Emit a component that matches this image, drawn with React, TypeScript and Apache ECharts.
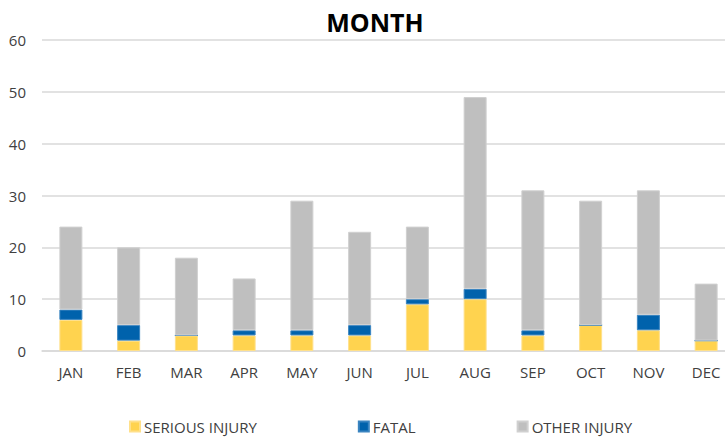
import React, { useEffect, useRef } from "react";
import * as echarts from "echarts";

const months = ["JAN", "FEB", "MAR", "APR", "MAY", "JUN", "JUL", "AUG", "SEP", "OCT", "NOV", "DEC"];
const seriousInjury = [6, 2, 3, 3, 3, 3, 9, 10, 3, 5, 4, 2];
const fatal = [2, 3, 0, 1, 1, 2, 1, 2, 1, 0, 3, 0];
const otherInjury = [16, 15, 15, 10, 25, 18, 14, 37, 27, 24, 24, 11];
const yTicks = { min: 0, max: 60, interval: 10 };

const FONT = "'Open Sans', 'Noto Sans', sans-serif";

export default function App() {
  const ref = useRef<HTMLDivElement>(null);
  useEffect(() => {
    if (!ref.current) return;
    const chart = echarts.init(ref.current, undefined, { renderer: "svg" });
    const barStyle = (color: string, border: string) => ({
      color,
      borderColor: border,
      borderWidth: 1,
    });
    chart.setOption({
      animation: false,
      backgroundColor: "#ffffff",
      title: {
        text: "MONTH",
        left: 370,
        textAlign: "center",
        top: 4,
        textStyle: {
          fontFamily: "'Liberation Sans Narrow', 'Open Sans', sans-serif",
          fontWeight: "bold",
          fontSize: 25,
          color: "#000000",
        },
      },
      legend: {
        bottom: 6,
        left: 124,
        itemWidth: 10,
        itemHeight: 10,
        itemGap: 101,
        icon: "rect",
        textStyle: { fontFamily: FONT, fontSize: 15, color: "#404040", padding: [0, 0, 0, -1] },
        data: ["SERIOUS INJURY", "FATAL", "OTHER INJURY"],
      },
      grid: { left: 42, right: 0, top: 40, bottom: 94, containLabel: false },
      xAxis: {
        type: "category",
        data: months,
        axisLine: { show: true, lineStyle: { color: "#d9d9d9", width: 1.5 } },
        axisTick: { show: false },
        axisLabel: { fontFamily: FONT, fontSize: 15, color: "#404040", margin: 13 },
      },
      yAxis: {
        type: "value",
        min: yTicks.min,
        max: yTicks.max,
        interval: yTicks.interval,
        axisLine: { show: false },
        axisTick: { show: false },
        splitLine: { lineStyle: { color: "#d9d9d9", width: 1.5 } },
        axisLabel: { fontFamily: FONT, fontSize: 15, color: "#404040", margin: 16 },
      },
      series: [
        {
          name: "SERIOUS INJURY",
          type: "bar",
          stack: "total",
          barWidth: 23,
          data: seriousInjury,
          itemStyle: barStyle("#FFD34F", "#FFE08A"),
        },
        {
          name: "FATAL",
          type: "bar",
          stack: "total",
          barWidth: 23,
          data: fatal,
          itemStyle: barStyle("#0062AC", "#3A84C0"),
        },
        {
          name: "OTHER INJURY",
          type: "bar",
          stack: "total",
          barWidth: 23,
          data: otherInjury,
          itemStyle: barStyle("#BFBFBF", "#D0D0D0"),
        },
      ],
    });
    return () => chart.dispose();
  }, []);
  return (
    <div style={{ width: 725, height: 445, position: "absolute", left: 0, top: 0, overflow: "hidden" }}>
      <div ref={ref} style={{ width: 735, height: 445 }} />
    </div>
  );
}
